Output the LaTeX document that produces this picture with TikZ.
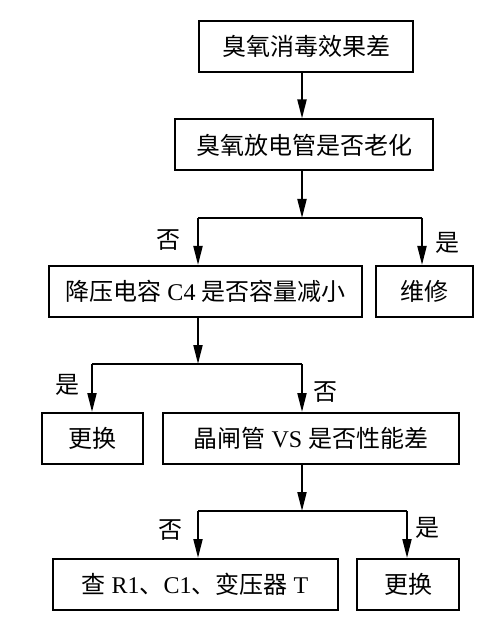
\documentclass[tikz,border=0pt]{standalone}
\usepackage{fontspec}
\setmainfont{Liberation Serif}
\newfontfamily\cjk{Noto Sans CJK SC}
\usepackage{tikz}
\usetikzlibrary{arrows.meta}

\begin{document}
\begin{tikzpicture}[x=0.5pt, y=-0.5pt,
		box/.style={draw, line width=1pt, minimum height=25.5pt, inner sep=0pt,
			font=\fontsize{12pt}{14pt}\selectfont},
		arr/.style={line width=1pt, -{Triangle[length=9.5pt, width=4.5pt]}},
		bar/.style={line width=1pt},
		lab/.style={font=\cjk\fontsize{12pt}{14pt}\selectfont}]
	\useasboundingbox (0,0) rectangle (500,630);
	
	% Boxes
	\node[box, minimum width=107pt] (fault) at (306,46.5) {\cjk 臭氧消毒效果差};
	\node[box, minimum width=129pt] (tube) at (304,145) {\cjk 臭氧放电管是否老化};
	\node[box, minimum width=156.5pt] (cap) at (205.5,291.5) {{\cjk 降压电容} C4 {\cjk 是否容量减小}};
	\node[box, minimum width=48.5pt] (repair) at (424.5,291.5) {\cjk 维修};
	\node[box, minimum width=50.5pt] (swapA) at (92.5,438.5) {\cjk 更换};
	\node[box, minimum width=148pt] (scr) at (311,438.5) {{\cjk 晶闸管} VS {\cjk 是否性能差}};
	\node[box, minimum width=142.5pt] (check) at (195,584.5) {{\cjk 查} R1{\cjk 、}C1{\cjk 、变压器} T};
	\node[box, minimum width=51pt] (swapB) at (408,584.5) {\cjk 更换};
	
	% Junctions
	\coordinate (j1) at (302,218);
	\coordinate (j1l) at (198,218);
	\coordinate (j1r) at (422,218);
	\coordinate (j2) at (198,364);
	\coordinate (j2l) at (92,364);
	\coordinate (j2r) at (302,364);
	\coordinate (j3) at (302,511);
	\coordinate (j3l) at (198,511);
	\coordinate (j3r) at (407,511);
	
	% Trunk arrows
	\draw[arr] (j1 |- fault.south) -- (j1 |- tube.north);
	\draw[arr] (j1 |- tube.south) -- (j1);
	\draw[arr] (j2 |- cap.south) -- (j2);
	\draw[arr] (j3 |- scr.south) -- (j3);
	
	% Branches
	\draw[bar] (j1l) -- (j1r);
	\draw[arr] (j1l) -- (j1l |- cap.north);
	\draw[arr] (j1r) -- (j1r |- repair.north);
	\draw[bar] (j2l) -- (j2r);
	\draw[arr] (j2l) -- (j2l |- swapA.north);
	\draw[arr] (j2r) -- (j2r |- scr.north);
	\draw[bar] (j3l) -- (j3r);
	\draw[arr] (j3l) -- (j3l |- check.north);
	\draw[arr] (j3r) -- (j3r |- swapB.north);
	
	% Labels
	\node[lab] (no1) at (168,240) {否};
	\node[lab] (yes1) at (447,243) {是};
	\node[lab] (yes2) at (67,385) {是};
	\node[lab] (no2) at (325,392) {否};
	\node[lab] (no3) at (170,530) {否};
	\node[lab] (yes3) at (427,528) {是};
\end{tikzpicture}
\end{document}
